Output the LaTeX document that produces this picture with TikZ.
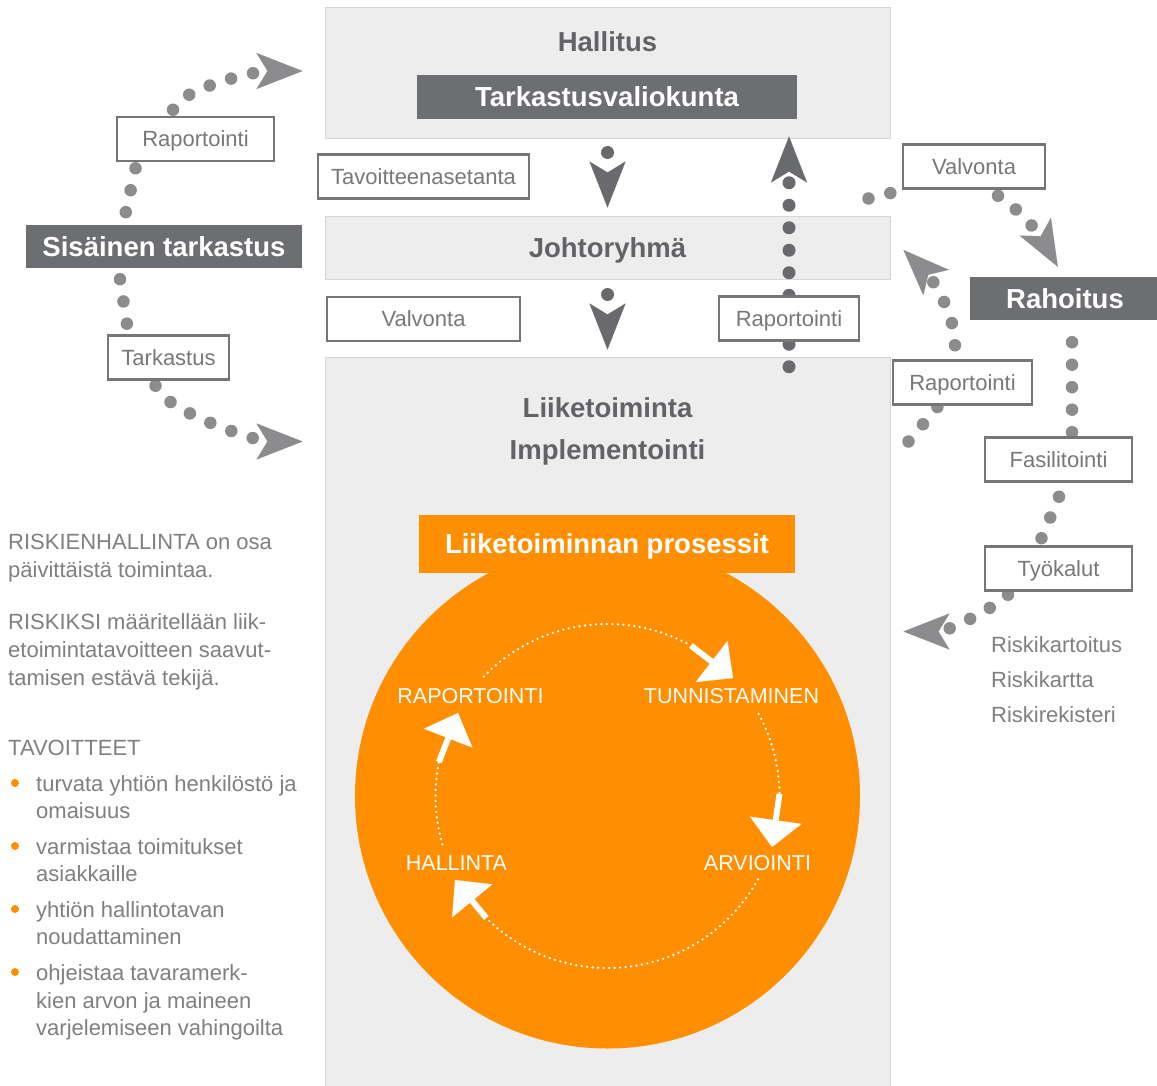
\documentclass[tikz,border=0pt]{standalone}
\usepackage{fontspec}
\setmainfont{Liberation Sans}
\usetikzlibrary{arrows.meta,calc}
\pgfdeclarelayer{back}
\pgfdeclarelayer{mid}
\pgfsetlayers{back,mid,main}
\definecolor{panel}{RGB}{237,237,237}
\definecolor{panelline}{RGB}{214,214,214}
\definecolor{darkfill}{RGB}{109,110,113}
\definecolor{headtxt}{RGB}{98,99,102}
\definecolor{lbltxt}{RGB}{120,120,122}
\definecolor{lblline}{RGB}{118,118,120}
\definecolor{dotgray}{RGB}{140,140,142}
\definecolor{dotdark}{RGB}{105,106,109}
\definecolor{orng}{RGB}{255,143,0}
\definecolor{bodytxt}{RGB}{128,128,130}
\newcommand\hdfnt{\fontsize{27.5pt}{30pt}\selectfont\bfseries}
\newcommand\lbfnt{\fontsize{22pt}{24pt}\selectfont}
\newcommand\bdfnt{\fontsize{22pt}{24pt}\selectfont}
\newcommand\cyfnt{\fontsize{21.5pt}{24pt}\selectfont}
\tikzset{
  panelbox/.style={draw=panelline, line width=1pt, fill=panel, inner sep=0pt},
  headtext/.style={text=headtxt, font=\hdfnt, inner sep=0pt, text height=19.7pt, text depth=0pt},
  darkbox/.style={fill=darkfill, text=white, font=\hdfnt, inner sep=0pt, text height=19.7pt, text depth=0pt},
  procbox/.style={fill=orng, text=white, font=\hdfnt, inner sep=0pt, text height=19.7pt, text depth=0pt},
  lblbox/.style={draw=lblline, line width=2.5pt, fill=white, text=lbltxt, font=\lbfnt, inner sep=0pt, minimum height=44pt, text height=15.75pt, text depth=0pt},
  cyclbl/.style={text=white, font=\cyfnt, inner sep=0pt, text height=15.4pt, text depth=0pt},
  bodytext/.style={text=bodytxt, font=\bdfnt, inner sep=0pt, anchor=base west},
  graydots/.style={draw=dotgray, line width=12.5pt, line cap=round, dash pattern=on 0pt off 22.5pt},
  grayarrow/.style={graydots, -{Stealth[length=46pt,width=36pt,inset=11pt,line width=0.01pt]}},
  darkdots/.style={draw=dotdark, line width=13pt, line cap=round, dash pattern=on 0pt off 22.5pt},
  darkarrow/.style={darkdots, -{Stealth[length=46pt,width=36pt,inset=11pt,line width=0.01pt]}},
  cycdots/.style={draw=white, line width=2.6pt, line cap=round, dash pattern=on 0pt off 5.5pt},
  cycarrow/.style={draw=white, line width=6pt, -{Triangle[length=27pt,width=52pt,line width=0.01pt]}}
}
\begin{document}
\begin{tikzpicture}[x=1pt,y=-1pt]
\useasboundingbox (0,0) rectangle (1157,1086);
\begin{pgfonlayer}{back}
  \fill[white] (0,0) rectangle (1157,1086);
  \node[panelbox, minimum width=565pt, minimum height=131pt] (hall) at (607.5,73.5) {};
  \node[panelbox, minimum width=565pt, minimum height=63pt] (joht) at (607.5,248.5) {};
  \node[panelbox, minimum width=565pt, minimum height=740pt] (liik) at (607.5,727) {};
  \node[circle, fill=orng, minimum size=505pt, inner sep=0pt] (cyc) at (607.5,796) {};
\end{pgfonlayer}

% headings and dark boxes
\node[headtext] (hallt) at (607.5,42) {Hallitus};
\node[darkbox, minimum width=380pt, minimum height=44pt] (tvk) at (607,97) {Tarkastusvaliokunta};
\node[headtext] (johtt) at (607.5,248) {Johtoryhmä};
\node[headtext] (liikt) at (607.5,408) {Liiketoiminta};
\node[headtext] (implt) at (607.5,450) {Implementointi};
\node[darkbox, minimum width=276pt, minimum height=43pt] (sis) at (164,246.5) {Sisäinen tarkastus};
\node[darkbox, minimum width=190pt, minimum height=43pt] (rah) at (1065,298.5) {Rahoitus};
\node[procbox, minimum width=376pt, minimum height=58pt] (proc) at (607,544) {Liiketoiminnan prosessit};

% label boxes
\node[lblbox, minimum width=157pt] (rap1) at (195.5,139) {Raportointi};
\node[lblbox, minimum width=121pt] (tark) at (168.5,357.5) {Tarkastus};
\node[lblbox, minimum width=211pt] (tav) at (423.5,176.5) {Tavoitteenasetanta};
\node[lblbox, minimum width=193pt] (valv1) at (423.5,319) {Valvonta};
\node[lblbox, minimum width=140pt] (rap2) at (789,318.5) {Raportointi};
\node[lblbox, minimum width=142pt] (valv2) at (974,166.5) {Valvonta};
\node[lblbox, minimum width=139pt] (rap3) at (962.5,382.5) {Raportointi};
\node[lblbox, minimum width=147pt] (fas) at (1058.5,459.5) {Fasilitointi};
\node[lblbox, minimum width=147pt] (tyo) at (1058.5,568.5) {Työkalut};

% free ends
\coordinate (tipA) at ($(hall.west)+(-22,-2.5)$);
\coordinate (tipB) at ($(liik.north west)+(-22,85)$);
\coordinate (c1) at ($(hall.south east)+(-22,59)$);
\coordinate (tipC) at ($(rah.north west)+(88,-10)$);
\coordinate (c2) at ($(liik.north east)+(18,85)$);
\coordinate (tipD) at ($(joht.east)+(13,1.5)$);
\coordinate (tipE) at ($(liik.north east)+(13,275)$);

\begin{pgfonlayer}{mid}
  % left loop
  \draw[grayarrow] ($(rap1.north)+(-22.5,-6)$) .. controls +(8,-22) and +(-45,0) .. (tipA);
  \draw[graydots] ($(rap1.south)+(-60,6)$) -- ($(sis.north)+(-41,0)$);
  \draw[graydots] ($(sis.south)+(-44,11)$) -- ($(tark.north)+(-40,0)$);
  \draw[grayarrow] ($(tark.south)+(-13,5)$) .. controls +(8,25) and +(-45,0) .. (tipB);
  % middle
  \draw[darkarrow] ($(hall.south)+(0,13)$) -- ($(joht.north)+(0,-9)$);
  \draw[darkarrow] ($(joht.south)+(0,14)$) -- ($(liik.north)+(0,-7)$);
  \draw[darkarrow] (rap2.north) -- ($(rap2.north |- hall.south)+(0,-3)$);
  \draw[darkdots] ($(rap2.south)+(0,25)$) -- (rap2.south);
  % right
  \draw[graydots] (c1) -- ($(valv2.south west)+(10,-2)$);
  \draw[grayarrow] ($(valv2.south)+(24,6)$) .. controls +(20,12) and +(-18,-32) .. (tipC);
  \draw[graydots] (c2) -- ($(rap3.south)+(-24,0)$);
  \draw[grayarrow] ($(rap3.north)+(-7.5,-14)$) .. controls +(0,-35) and +(25,25) .. (tipD);
  \draw[graydots] ($(rah.south)+(7,22)$) -- ($(fas.north)+(13.5,0)$);
  \draw[graydots] ($(fas.south)+(0.5,14)$) -- ($(tyo.north)+(-20,0)$);
  \draw[grayarrow] ($(tyo.south)+(-50.5,3)$) .. controls +(-12,12) and +(45,0) .. (tipE);
  % cycle
  \draw[cycdots] ($(cyc.center)+(-136:172)$) arc[start angle=-136, end angle=-61, radius=172];
  \draw[cycarrow] ($(cyc.center)+(-61:172)$) -- ($(cyc.center)+(125.5,-118)$);
  \draw[cycdots] ($(cyc.center)+(-28.5:172)$) arc[start angle=-28.5, end angle=-0.7, radius=172];
  \draw[cycarrow] ($(cyc.center)+(-0.7:172)$) -- ($(cyc.center)+(164.5,51)$);
  \draw[cycdots] ($(cyc.center)+(29:172)$) arc[start angle=29, end angle=134.8, radius=172];
  \draw[cycarrow] ($(cyc.center)+(134.8:172)$) -- ($(cyc.center)+(-152.5,84)$);
  \draw[cycdots] ($(cyc.center)+(163.7:172)$) arc[start angle=163.7, end angle=191.4, radius=172];
  \draw[cycarrow] ($(cyc.center)+(191.4:172)$) -- ($(cyc.center)+(-149.5,-83)$);
\end{pgfonlayer}

% cycle labels
\node[cyclbl] (cl1) at (470.5,696) {RAPORTOINTI};
\node[cyclbl] (cl2) at (731.5,696) {TUNNISTAMINEN};
\node[cyclbl] (cl3) at (757.5,863) {ARVIOINTI};
\node[cyclbl] (cl4) at (456.5,863) {HALLINTA};

% left text
\foreach \t/\y [count=\i] in {RISKIENHALLINTA on osa/549.5, päivittäistä toimintaa./577.5,
  RISKIKSI määritellään liik-/629.5, etoimintatavoitteen saavut-/657.5, tamisen estävä tekijä./685.5,
  TAVOITTEET/755.5}
  \node[bodytext] (tx\i) at (8,\y) {\t};
\foreach \t/\y [count=\i] in {turvata yhtiön henkilöstö ja/791.5, omaisuus/818.5,
  varmistaa toimitukset/854.5, asiakkaille/881.5, yhtiön hallintotavan/917.5, noudattaminen/944.5,
  ohjeistaa tavaramerk-/980.5, kien arvon ja maineen/1008.5, varjelemiseen vahingoilta/1035.5}
  \node[bodytext] (bt\i) at (36,\y) {\t};
\foreach \y [count=\i] in {783,846,909,972}
  \node[circle, fill=orng, inner sep=0pt, minimum size=8pt] (bl\i) at (15,\y) {};

% tool list
\node[bodytext] (rk1) at (991,652) {Riskikartoitus};
\node[bodytext] (rk2) at (991,687) {Riskikartta};
\node[bodytext] (rk3) at (991,722) {Riskirekisteri};
\end{tikzpicture}
\end{document}
